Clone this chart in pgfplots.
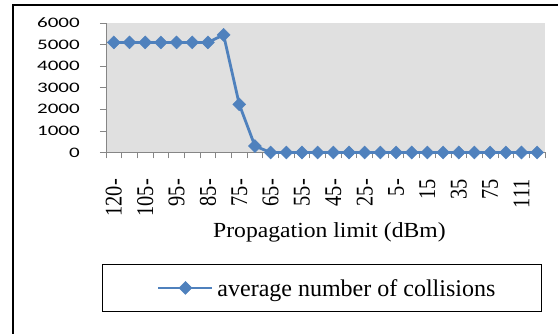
\documentclass[border=0pt]{standalone}
\usepackage{pgfplots}
\pgfplotsset{compat=1.18}
\usepackage{fontspec}
\setmainfont{Liberation Serif}
\newfontfamily\ytickfont[FakeStretch=1.45]{Carlito}
\newfontfamily\xtickfont[FakeStretch=0.85]{Liberation Serif}
\newfontfamily\titlefont[FakeStretch=1.1]{Liberation Serif}
\definecolor{seriesblue}{RGB}{79,129,189}
\definecolor{plotbg}{RGB}{224,224,224}
\definecolor{axisgray}{RGB}{134,134,134}

\begin{document}
\begin{tikzpicture}
\useasboundingbox (0,0) rectangle (558pt,334pt);
\clip (0,0) rectangle (558pt,334pt);
% outer chart frame
\draw[line width=2pt] (13pt,-10pt) -- (13pt,329pt) -- (570pt,329pt);
\begin{axis}[
  at={(106pt,181.5pt)}, anchor=south west,
  width=439pt, height=129.5pt, scale only axis,
  clip=false,
  axis background/.style={fill=plotbg},
  axis x line*=bottom, axis y line*=left,
  axis line style={draw=axisgray, line width=0.8pt, -},
  xmin=-0.5, xmax=27.5, ymin=0, ymax=6000,
  ytick={0,1000,2000,3000,4000,5000,6000},
  yticklabels={0,1000,2000,3000,4000,5000,6000},
  xtick={0,2,4,6,8,10,12,14,16,18,20,22,24,26},
  xticklabels={120-,105-,95-,85-,75-,65-,55-,45-,25-,5-,15,35,75,111},
  minor xtick={-0.5,0.5,...,27.5},
  tick align=outside,
  major tick length=6pt, minor tick length=6pt,
  tick style={draw=axisgray, line width=0.8pt},
  major x tick style={draw=none},
  yticklabel style={font=\ytickfont\fontsize{14.5}{15}\selectfont, anchor=east, inner sep=0pt},
  yticklabel shift=20pt,
  xticklabel style={font=\xtickfont\fontsize{24}{24}\selectfont, rotate=90, anchor=east, inner sep=0pt},
  xticklabel shift=20.5pt,
  xlabel={Propagation limit (dBm)},
  xlabel style={at={(axis description cs:0.509,-0.660)}, anchor=base, inner sep=0pt,
    font=\titlefont\fontsize{21.5}{22}\selectfont},
  legend image code/.code={
    \path[draw=none, fill=none] (-56pt,-23.2pt) rectangle (59pt,23.2pt);
    \draw[#1, mark repeat=2, mark phase=2] plot coordinates {(0pt,0pt) (27pt,0pt) (54pt,0pt)};
  },
  legend style={at={(axis description cs:-0.0091,-0.8633)}, anchor=north west,
    draw=black, line width=0.9pt, inner xsep=0pt, inner ysep=0pt, column sep=0pt,
    nodes={inner sep=0pt, text depth=0pt}, font=\fontsize{24}{24}\selectfont},
  legend cell align=left,
]
\addplot[color=seriesblue, line width=2.8pt, mark=square*, mark size=4.6pt,
  mark options={rotate=45, line width=0.4pt, fill=seriesblue, draw=seriesblue}]
  coordinates {
  (0,5100) (1,5100) (2,5100) (3,5100) (4,5100) (5,5100) (6,5100)
  (7,5450) (8,2230) (9,300)
  (10,0) (11,0) (12,0) (13,0) (14,0) (15,0) (16,0) (17,0) (18,0)
  (19,0) (20,0) (21,0) (22,0) (23,0) (24,0) (25,0) (26,0) (27,0)
  };
\addlegendentry{\makebox[324pt][l]{average number of collisions}}
\end{axis}
\end{tikzpicture}
\end{document}
